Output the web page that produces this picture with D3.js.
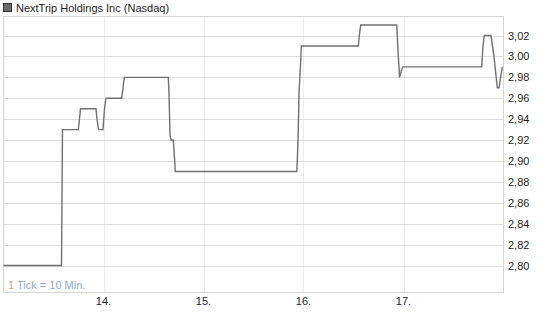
<!DOCTYPE html>
<html><head><meta charset="utf-8">
<script src="https://cdn.jsdelivr.net/npm/d3@7"></script>
<style>body{margin:0;background:#fff}svg{display:block}text{font-family:"Liberation Sans",Arial,sans-serif}</style>
</head><body><svg id="c" width="545" height="327"></svg>
<script>
const title = "NextTrip Holdings Inc (Nasdaq)";
const tickNote = ["1", " Tick = 10 Min."];
// time as fractional day of month
const times = [13.000,13.580,13.590,13.748,13.760,13.770,13.925,13.935,13.950,13.995,14.010,14.025,14.182,14.195,14.208,14.648,14.655,14.665,14.675,14.698,14.705,14.712,14.718,15.932,15.938,15.945,15.950,15.955,15.972,15.978,16.548,16.558,16.572,16.932,16.938,16.945,16.955,16.960,16.975,16.992,17.782,17.795,17.808,17.875,17.905,17.938,17.955,17.988];
const prices = [2.80,2.80,2.93,2.93,2.94,2.95,2.95,2.94,2.93,2.93,2.95,2.96,2.96,2.97,2.98,2.98,2.965,2.925,2.92,2.92,2.91,2.90,2.89,2.89,2.90,2.92,2.94,2.965,2.995,3.01,3.01,3.02,3.03,3.03,3.02,3.005,2.99,2.98,2.985,2.99,2.99,3.01,3.02,3.02,3.00,2.97,2.97,2.99];
const dayTicks = [14,15,16,17];
const dayLabels = ["14.","15.","16.","17."];
const yTicks = [2.80,2.82,2.84,2.86,2.88,2.90,2.92,2.94,2.96,2.98,3.00,3.02];

const svg = d3.select("#c");
const L = 3.5, R = 503.5, T = 16.5, B = 292.5;
const x = d3.scaleLinear().domain([13,18]).range([L,R]);
const y = d3.scaleLinear().domain([2.7742,3.0382]).range([B,T]);
const px = v => Math.round(v) + 0.5;

// vertical gridlines
svg.append("g").selectAll("line").data(dayTicks).join("line")
  .attr("x1", d=>px(x(d))).attr("x2", d=>px(x(d))).attr("y1", T).attr("y2", B)
  .attr("stroke", "#ececec").attr("stroke-width", 1);
// horizontal gridlines
svg.append("g").selectAll("line").data(yTicks).join("line")
  .attr("x1", L).attr("x2", R).attr("y1", d=>px(y(d))).attr("y2", d=>px(y(d)))
  .attr("stroke", "#dcdcdc").attr("stroke-width", 1);
// frame
svg.append("rect").attr("x", L).attr("y", T).attr("width", R-L).attr("height", B-T)
  .attr("fill", "none").attr("stroke", "#d4d4d4");

// y labels
svg.append("g").selectAll("text").data(yTicks).join("text")
  .attr("x", 508).attr("y", d=>y(d)+4).attr("font-size", 11).attr("fill", "#222")
  .text(d => d3.format(".2f")(d).replace(".", ","));
// x labels
svg.append("g").selectAll("text").data(dayTicks).join("text")
  .attr("x", d=>x(d)).attr("y", 305).attr("text-anchor", "middle").attr("font-size", 11).attr("fill", "#222")
  .text((d,i) => dayLabels[i]);

// line
const pts = times.map((t,i)=>[t, prices[i]]);
svg.append("path").datum(pts)
  .attr("d", d3.line().x(d=>x(d[0])).y(d=>y(d[1])))
  .attr("fill", "none").attr("stroke", "#707070").attr("stroke-width", 1.4);

// tick note
const tn = svg.append("text").attr("x", 8).attr("y", 289).attr("font-size", 11);
tn.append("tspan").attr("fill", "#c4a77c").text(tickNote[0]);
tn.append("tspan").attr("fill", "#93a9c9").text(tickNote[1]);

// legend
svg.append("rect").attr("x", 3.5).attr("y", 3.5).attr("width", 8).attr("height", 8)
  .attr("fill", "#6a6a6a").attr("stroke", "#333");
svg.append("text").attr("x", 16).attr("y", 12).attr("font-size", 11).attr("fill", "#222").text(title);
</script></body></html>
